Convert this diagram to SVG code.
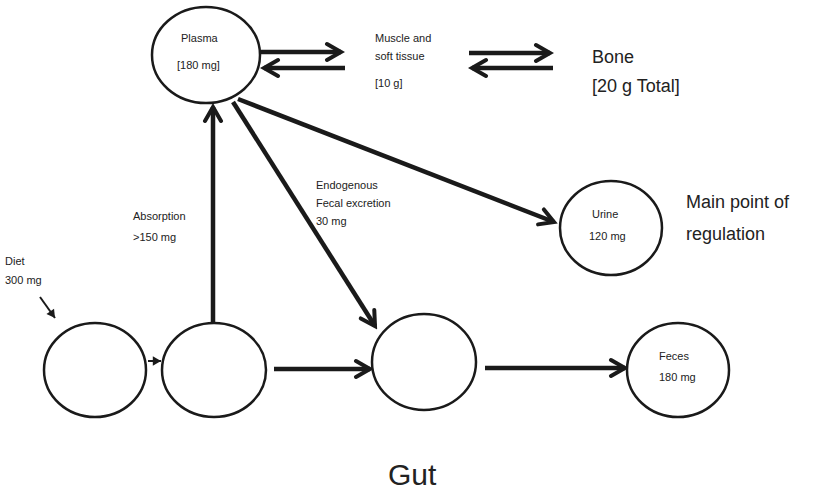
<svg xmlns="http://www.w3.org/2000/svg" width="813" height="492" viewBox="0 0 813 492">
<defs>
<marker id="ah" markerUnits="userSpaceOnUse" markerWidth="24" markerHeight="24" viewBox="-20 -12 24 24" refX="0" refY="0" orient="auto">
<path d="M-14,-8 L0,0 L-14,8" fill="none" stroke="#1a1a1a" stroke-width="4" stroke-linecap="round" stroke-linejoin="miter"/>
</marker>
<marker id="ahs" markerUnits="userSpaceOnUse" markerWidth="14" markerHeight="14" viewBox="-10 -6 12 12" refX="0" refY="0" orient="auto">
<path d="M-7,-4 L0,0 L-7,4 Z" fill="#1a1a1a"/>
</marker>
</defs>
<style>
.n{fill:#fff;stroke:#1a1a1a;stroke-width:2.5}
.c{stroke:#1a1a1a;stroke-width:4.5;fill:none;marker-end:url(#ah)}
.cs{stroke:#1a1a1a;stroke-width:2;fill:none;marker-end:url(#ahs)}
.t{font-family:"Liberation Sans",Arial,sans-serif;font-size:11px;fill:#222}
.tb{font-family:"Liberation Sans",Arial,sans-serif;font-size:18px;fill:#222}
</style>
<rect width="813" height="492" fill="#fff"/>
<g id="connectors">
<path class="c" d="M260,52 L341,52"/>
<path class="c" d="M345,68 L264,68"/>
<path class="c" d="M469,53 L550,53"/>
<path class="c" d="M553,68 L472,68"/>
<path class="c" d="M213,322 L213,107"/>
<path class="c" d="M238,99 L554,222"/>
<path class="c" d="M233,102 L375,326"/>
<path class="cs" d="M40,297 L55,318"/>
<path class="cs" d="M148,361 L161,361"/>
<path class="c" d="M274,369 L370,369"/>
<path class="c" d="M485,368 L625,368"/>
</g>
<g id="plasma">
<ellipse class="n" cx="206" cy="55" rx="54" ry="48"/>
<text class="t" x="181" y="42">Plasma</text>
<text class="t" x="177" y="69">[180 mg]</text>
</g>
<g id="muscle">
<text class="t" x="375" y="42">Muscle and</text>
<text class="t" x="375" y="60">soft tissue</text>
<text class="t" x="375" y="87">[10 g]</text>
</g>
<g id="bone">
<text class="tb" x="592" y="63">Bone</text>
<text class="tb" x="592" y="92">[20 g Total]</text>
</g>
<g id="urine">
<ellipse class="n" cx="611" cy="228" rx="51" ry="47"/>
<text class="t" x="592" y="218">Urine</text>
<text class="t" x="589" y="240">120 mg</text>
</g>
<g id="regulation">
<text class="tb" x="686" y="208">Main point of</text>
<text class="tb" x="686" y="240">regulation</text>
</g>
<g id="absorption">
<text class="t" x="133" y="220">Absorption</text>
<text class="t" x="133" y="241">&gt;150 mg</text>
</g>
<g id="endogenous">
<text class="t" x="316" y="189">Endogenous</text>
<text class="t" x="316" y="207">Fecal excretion</text>
<text class="t" x="316" y="225">30 mg</text>
</g>
<g id="diet">
<text class="t" x="5" y="265">Diet</text>
<text class="t" x="5" y="284">300 mg</text>
</g>
<g id="gut1">
<ellipse class="n" cx="95" cy="370" rx="51" ry="47"/>
</g>
<g id="gut2">
<ellipse class="n" cx="214" cy="370" rx="52" ry="47"/>
</g>
<g id="gut3">
<ellipse class="n" cx="424" cy="362" rx="52" ry="48"/>
</g>
<g id="feces">
<ellipse class="n" cx="678" cy="370" rx="51" ry="47"/>
<text class="t" x="659" y="360">Feces</text>
<text class="t" x="659" y="381">180 mg</text>
</g>
<g id="gut">
<text x="388" y="485" style="font-family:'Liberation Sans',Arial,sans-serif;font-size:30px;fill:#222">Gut</text>
</g>
</svg>
